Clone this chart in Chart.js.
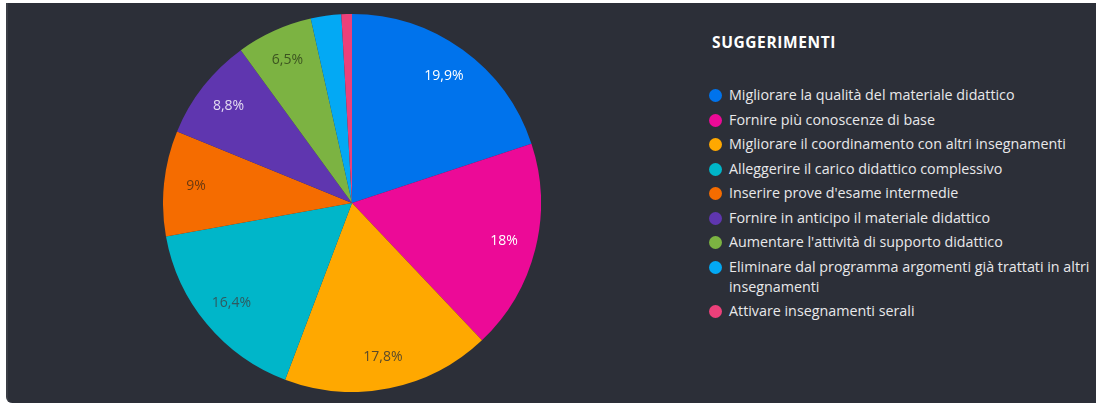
<!DOCTYPE html>
<html>
<head>
<meta charset="utf-8">
<script src="https://cdn.jsdelivr.net/npm/chart.js@4"></script>
<style>
  html, body { margin: 0; padding: 0; background: #fff; }
  body { width: 1096px; height: 405px; position: relative; overflow: hidden; font-family: "Open Sans", sans-serif; }
  .card { position: absolute; left: 6px; top: 3px; width: 1100px; height: 400px; background: #2c2f38;
          border-left: 2px solid #3a3d45; border-radius: 0 0 0 6px; box-sizing: border-box; }
  #pieWrap { position: absolute; left: 163px; top: 14px; width: 378px; height: 378px; }
  #legend { position: absolute; left: 709px; top: 31px; color: #e8e8ea; }
  #legend h3 { margin: 0 0 32px 3px; font-size: 15.5px; font-weight: 700; color: #fff; letter-spacing: 0.6px; }
  #legend ul { list-style: none; margin: 0; padding: 0; }
  #legend li { position: relative; padding-left: 20px; font-size: 14.3px; line-height: 20px; margin-bottom: 4.5px; width: 382px; }
  #legend li span { position: absolute; left: 0; top: 4px; width: 13px; height: 13px; border-radius: 50%; }
</style>
</head>
<body>
<div class="card">
</div>
<div id="pieWrap"><canvas id="pieChart"></canvas></div>
<div id="legend"><h3>SUGGERIMENTI</h3><ul id="legendList"></ul></div>
<script>
const categories = [
    "Migliorare la qualità del materiale didattico",
    "Fornire più conoscenze di base",
    "Migliorare il coordinamento con altri insegnamenti",
    "Alleggerire il carico didattico complessivo",
    "Inserire prove d'esame intermedie",
    "Fornire in anticipo il materiale didattico",
    "Aumentare l'attività di supporto didattico",
    "Eliminare dal programma argomenti già trattati in altri insegnamenti",
    "Attivare insegnamenti serali"
];
const percentages = [19.9, 18, 17.8, 16.4, 9, 8.8, 6.5, 2.6, 0.9];
const sliceColors = ["#0073ec", "#ec0a97", "#ffa800", "#00b6c9", "#f56c00", "#5f36af", "#7cb342", "#03a9f4", "#ec407a"];
const labelColors = ["#ffffff", "#ffffff", "#5a4a2a", "#2f5a60", "#6a3a10", "#e4dcf2", "#3c5420", "#ffffff", "#ffffff"];

// percent labels drawn inside each slice
const sliceLabels = {
    id: "sliceLabels",
    afterDatasetsDraw(chart) {
        const ctx = chart.ctx;
        const arcs = chart.getDatasetMeta(0).data;
        ctx.save();
        ctx.font = "14px 'Open Sans'";
        ctx.textAlign = "center";
        ctx.textBaseline = "middle";
        arcs.forEach(function (arc, i) {
            if (percentages[i] < 5) return;
            const mid = (arc.startAngle + arc.endAngle) / 2;
            const r = arc.outerRadius * 0.83;
            ctx.fillStyle = labelColors[i];
            ctx.fillText(String(percentages[i]).replace(".", ",") + "%",
                arc.x + Math.cos(mid) * r, arc.y + Math.sin(mid) * r);
        });
        ctx.restore();
    }
};

new Chart(document.getElementById("pieChart").getContext("2d"), {
    type: "pie",
    data: {
        labels: categories,
        datasets: [{
            data: percentages,
            backgroundColor: sliceColors,
            borderWidth: 0
        }]
    },
    options: {
        responsive: true,
        maintainAspectRatio: false,
        animation: false,
        layout: { padding: 0 },
        plugins: {
            legend: { display: false },
            tooltip: { enabled: false }
        }
    },
    plugins: [sliceLabels]
});

// html legend
const list = document.getElementById("legendList");
categories.forEach(function (name, i) {
    const li = document.createElement("li");
    const dot = document.createElement("span");
    dot.style.background = sliceColors[i];
    li.appendChild(dot);
    li.appendChild(document.createTextNode(name));
    list.appendChild(li);
});
</script>
</body>
</html>
